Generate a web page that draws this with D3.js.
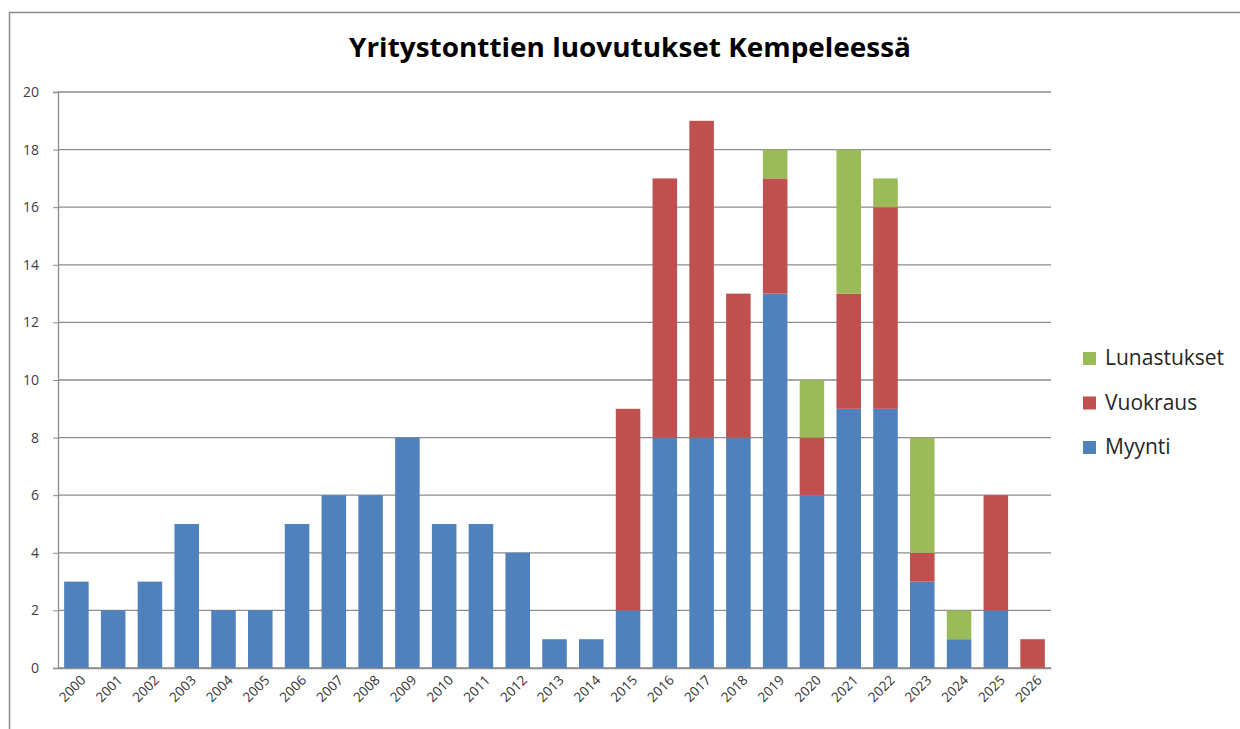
<!DOCTYPE html>
<html><head><meta charset="utf-8">
<script src="https://cdn.jsdelivr.net/npm/d3@7"></script>
<style>body{margin:0;background:#fff;} svg{display:block;}</style>
</head><body>
<svg id="c" width="1240" height="729"></svg>
<script>
const years = ["2000","2001","2002","2003","2004","2005","2006","2007","2008","2009","2010","2011","2012","2013","2014","2015","2016","2017","2018","2019","2020","2021","2022","2023","2024","2025","2026"];
const myynti =      [3,2,3,5,2,2,5,6,6,8,5,5,4,1,1,2,8,8,8,13,6,9,9,3,1,2,0];
const vuokraus =    [0,0,0,0,0,0,0,0,0,0,0,0,0,0,0,7,9,11,5,4,2,4,7,1,0,4,1];
const lunastukset = [0,0,0,0,0,0,0,0,0,0,0,0,0,0,0,0,0,0,0,1,2,5,1,4,1,0,0];
const seriesNames = ["Myynti","Vuokraus","Lunastukset"];
const colors = ["#4F81BD","#C0504D","#9BBB59"];
const yTicks = [0,2,4,6,8,10,12,14,16,18,20];
const title = "Yritystonttien luovutukset Kempeleessä";

const svg = d3.select("#c");
const font = "'Open Sans', 'Liberation Sans', sans-serif";
const L=58, R=1051, T=92, B=668;

svg.append("rect").attr("x",9.5).attr("y",12.5).attr("width",1300).attr("height",800)
  .attr("fill","#fff").attr("stroke","#8c8c8c").attr("stroke-width",1.5);

const x = d3.scaleBand().domain(years).range([L,R]).paddingInner(0.333).paddingOuter(0.1665);
const y = d3.scaleLinear().domain([0,20]).range([B,T]);

// gridlines
svg.append("g").selectAll("line").data(yTicks).join("line")
  .attr("x1",L).attr("x2",R).attr("y1",d=>y(d)).attr("y2",d=>y(d))
  .attr("stroke","#8c8c8c").attr("stroke-width",1.3);

const rows = years.map((yr,i)=>({year:yr, Myynti:myynti[i], Vuokraus:vuokraus[i], Lunastukset:lunastukset[i]}));
const stacked = d3.stack().keys(seriesNames)(rows);
svg.append("g").selectAll("g").data(stacked).join("g")
  .attr("fill",(d,i)=>colors[i])
  .selectAll("rect").data(d=>d).join("rect")
  .attr("x",d=>x(d.data.year)).attr("width",x.bandwidth())
  .attr("y",d=>y(d[1])).attr("height",d=>y(d[0])-y(d[1]));

// y axis
const ya = svg.append("g").attr("transform",`translate(${L},0)`)
  .call(d3.axisLeft(y).tickValues(yTicks).tickSize(5).tickPadding(14));
ya.select(".domain").attr("stroke","#8c8c8c").attr("stroke-width",1.3);
ya.selectAll(".tick line").attr("stroke","#8c8c8c");
ya.selectAll("text").attr("font-family",font).attr("font-size",14).attr("fill","#404040");

// x axis
const xa = svg.append("g").attr("transform",`translate(0,${B})`)
  .call(d3.axisBottom(x).tickSize(0));
xa.select(".domain").attr("stroke","#8c8c8c").attr("stroke-width",1.3);
xa.selectAll("text").attr("font-family",font).attr("font-size",13.5).attr("fill","#333")
  .attr("text-anchor","end").attr("dy",0)
  .attr("transform","translate(8,11) rotate(-45)");

// title
svg.append("text").attr("x",630).attr("y",57).attr("text-anchor","middle")
  .attr("font-family",font).attr("font-weight","bold").attr("font-size",27).attr("fill","#000")
  .attr("textLength",562).attr("lengthAdjust","spacingAndGlyphs")
  .text(title);

// legend
const leg = svg.append("g");
const order = [2,1,0];
order.forEach((si,k)=>{
  const yy = 358 + k*44.5;
  leg.append("rect").attr("x",1083).attr("y",yy-6).attr("width",13).attr("height",13).attr("fill",colors[si]);
  leg.append("text").attr("x",1105).attr("y",yy).attr("dy","0.35em")
    .attr("font-family",font).attr("font-size",21).attr("fill","#262626").text(seriesNames[si]);
});
</script>
</body></html>
